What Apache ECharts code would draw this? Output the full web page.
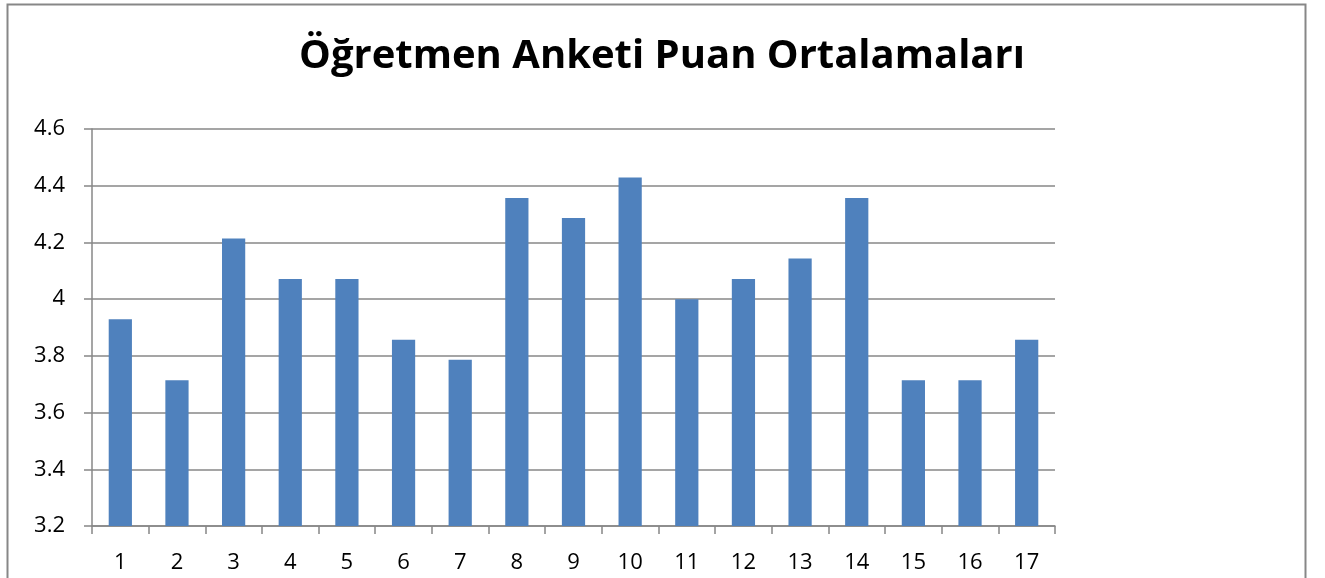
<!DOCTYPE html>
<html>
<head>
<meta charset="utf-8">
<script src="https://cdn.jsdelivr.net/npm/echarts@6/dist/echarts.min.js"></script>
<style>html,body{margin:0;padding:0;background:#fff;}#c{width:1325px;height:578px;}</style>
</head>
<body>
<div id="c"></div>
<script>
const title = "Öğretmen Anketi Puan Ortalamaları";
const categories = ["1","2","3","4","5","6","7","8","9","10","11","12","13","14","15","16","17"];
const values = [3.929, 3.714, 4.214, 4.071, 4.071, 3.857, 3.786, 4.357, 4.286, 4.429, 4.0, 4.071, 4.143, 4.357, 3.714, 3.714, 3.857];
const yTicks = { min: 3.2, max: 4.6, interval: 0.2 };

const chart = echarts.init(document.getElementById('c'), null, {renderer: 'canvas'});
const fontFam = '"Open Sans", "Noto Sans", sans-serif';
chart.setOption({
  animation: false,
  backgroundColor: '#fff',
  title: {
    text: title, left: 657, top: 32, textAlign: 'center',
    textStyle: { fontFamily: fontFam, fontWeight: 'bold', fontSize: 40, color: '#000' }
  },
  graphic: [{
    type: 'rect', shape: { x: 7.5, y: 4.5, width: 1298, height: 600 },
    style: { fill: 'none', stroke: '#878787', lineWidth: 2 }, silent: true
  }],
  grid: { left: 92, right: 270, top: 129, bottom: 52 },
  xAxis: {
    type: 'category', data: categories,
    axisLine: { lineStyle: { color: '#878787', width: 1.5 } },
    axisTick: { show: true, length: 8, lineStyle: { color: '#878787', width: 1.5 } },
    axisLabel: { fontFamily: fontFam, fontSize: 22, color: '#000', margin: 26 }
  },
  yAxis: {
    type: 'value', min: yTicks.min, max: yTicks.max, interval: yTicks.interval,
    axisLine: { show: true, lineStyle: { color: '#878787', width: 1.5 } },
    axisTick: { show: true, length: 8, lineStyle: { color: '#878787', width: 1.5 } },
    splitLine: { lineStyle: { color: '#878787', width: 1.5 } },
    axisLabel: { fontFamily: fontFam, fontSize: 22, color: '#000', margin: 27,
      formatter: v => String(Math.round(v * 10) / 10) }
  },
  series: [{
    type: 'bar', data: values, barWidth: '41%',
    itemStyle: { color: '#4F81BD' }
  }]
});
</script>
</body>
</html>
